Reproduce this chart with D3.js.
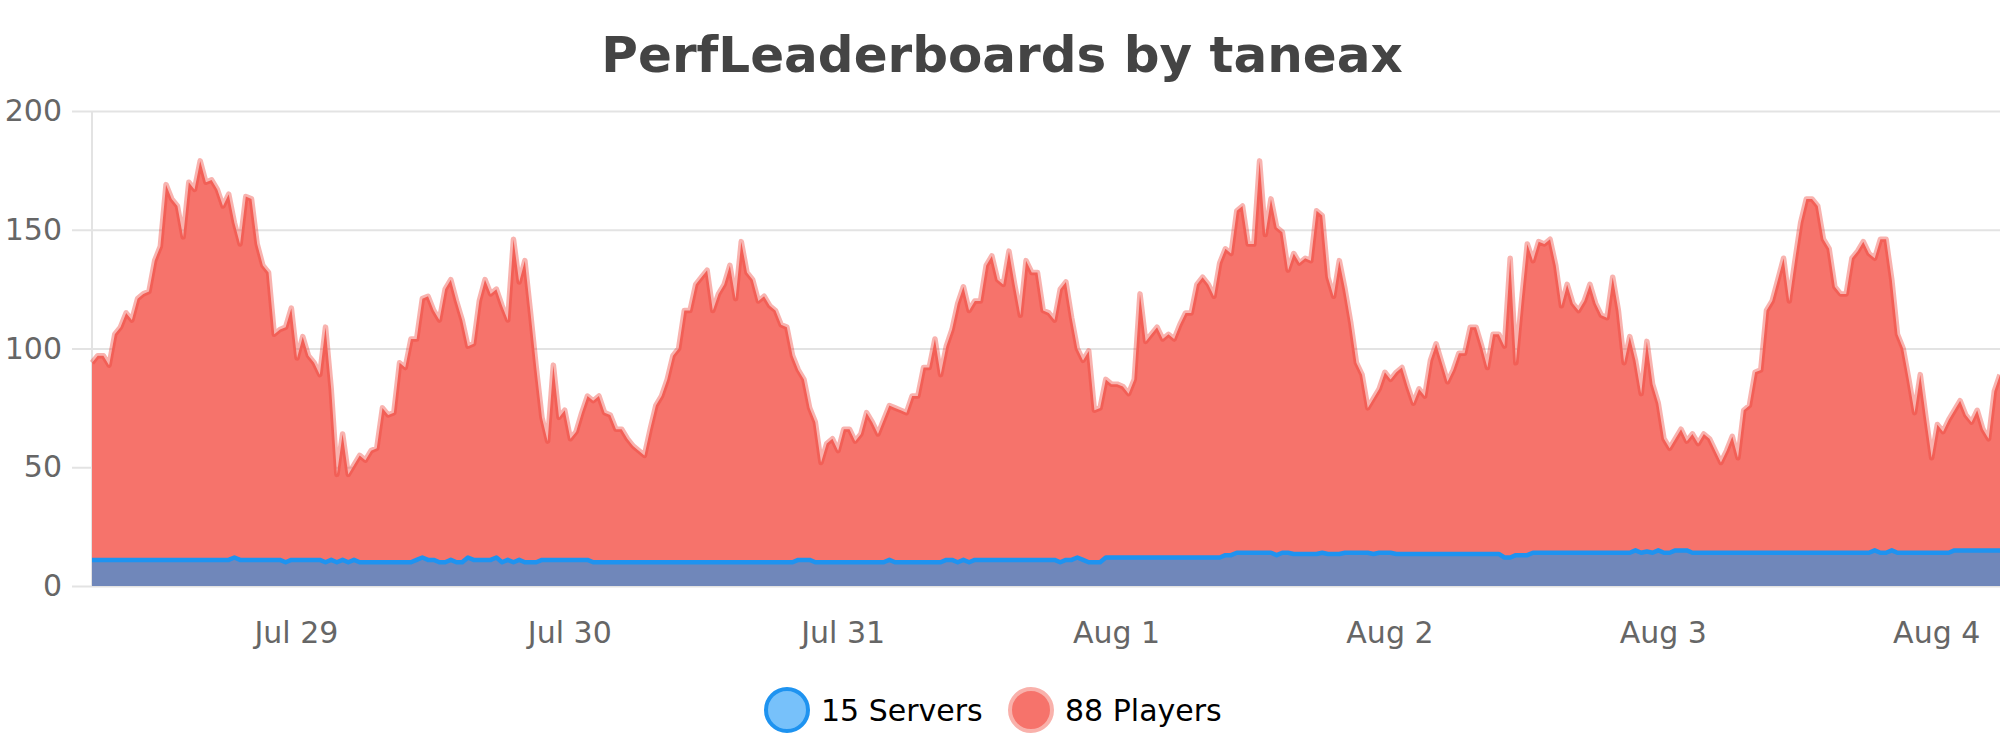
<!DOCTYPE html>
<html>
<head>
<meta charset="utf-8">
<script src="https://cdn.jsdelivr.net/npm/d3@7"></script>
<style>
  body { margin: 0; background: #fff; }
  svg { display: block; font-family: "DejaVu Sans", sans-serif; }
</style>
</head>
<body>
<svg id="chart"></svg>
<script>
// half-hourly samples, first one at Jul 28 06:06 (UTC)
var startTime = Date.UTC(2021, 6, 28, 6, 6);
var stepMinutes = 30;

var players = [
  94, 97, 97, 93, 106, 109, 115, 112, 121, 123,
  124, 137, 143, 169, 163, 160, 147, 170, 167, 179,
  170, 171, 167, 160, 165, 153, 144, 164, 163, 144,
  135, 132, 106, 108, 109, 117, 96, 105, 97, 94,
  89, 109, 83, 47, 64, 47, 51, 55, 53, 57,
  58, 75, 72, 73, 94, 92, 104, 104, 121, 122,
  116, 112, 125, 129, 120, 112, 101, 102, 120, 129,
  123, 125, 118, 112, 146, 128, 137, 115, 92, 71,
  61, 93, 71, 74, 62, 65, 73, 80, 78, 80,
  73, 72, 66, 66, 62, 59, 57, 55, 66, 76,
  80, 87, 97, 100, 116, 116, 127, 130, 133, 116,
  123, 127, 135, 121, 145, 132, 129, 120, 122, 118,
  116, 110, 109, 97, 91, 87, 75, 69, 52, 60,
  62, 57, 66, 66, 61, 64, 73, 69, 64, 70,
  76, 75, 74, 73, 80, 80, 92, 92, 104, 89,
  101, 108, 119, 126, 116, 120, 120, 135, 139, 129,
  127, 141, 127, 114, 137, 132, 132, 116, 115, 112,
  125, 128, 113, 100, 95, 99, 74, 75, 87, 85,
  85, 84, 81, 87, 123, 103, 106, 109, 104, 106,
  104, 110, 115, 115, 127, 130, 127, 122, 136, 142,
  140, 158, 160, 144, 144, 179, 148, 163, 151, 149,
  133, 140, 136, 138, 137, 158, 156, 130, 122, 137,
  125, 111, 94, 89, 75, 79, 83, 90, 87, 90,
  92, 84, 77, 83, 80, 95, 102, 94, 86, 91,
  98, 98, 109, 109, 101, 92, 106, 106, 101, 138,
  94, 120, 144, 137, 145, 144, 146, 135, 118, 127,
  119, 116, 120, 127, 119, 114, 113, 130, 116, 94,
  105, 95, 81, 103, 85, 77, 62, 58, 62, 66,
  61, 64, 60, 64, 62, 57, 52, 57, 63, 54,
  74, 76, 90, 91, 116, 120, 129, 138, 120, 137,
  153, 163, 163, 160, 146, 142, 126, 123, 123, 138,
  141, 145, 140, 138, 146, 146, 129, 106, 100, 87,
  73, 89, 71, 54, 68, 65, 70, 74, 78, 72,
  69, 74, 66, 62, 82, 89
];

var servers = [
  11, 11, 11, 11, 11, 11, 11, 11, 11, 11,
  11, 11, 11, 11, 11, 11, 11, 11, 11, 11,
  11, 11, 11, 11, 11, 12, 11, 11, 11, 11,
  11, 11, 11, 11, 10, 11, 11, 11, 11, 11,
  11, 10, 11, 10, 11, 10, 11, 10, 10, 10,
  10, 10, 10, 10, 10, 10, 10, 11, 12, 11,
  11, 10, 10, 11, 10, 10, 12, 11, 11, 11,
  11, 12, 10, 11, 10, 11, 10, 10, 10, 11,
  11, 11, 11, 11, 11, 11, 11, 11, 10, 10,
  10, 10, 10, 10, 10, 10, 10, 10, 10, 10,
  10, 10, 10, 10, 10, 10, 10, 10, 10, 10,
  10, 10, 10, 10, 10, 10, 10, 10, 10, 10,
  10, 10, 10, 10, 11, 11, 11, 10, 10, 10,
  10, 10, 10, 10, 10, 10, 10, 10, 10, 10,
  11, 10, 10, 10, 10, 10, 10, 10, 10, 10,
  11, 11, 10, 11, 10, 11, 11, 11, 11, 11,
  11, 11, 11, 11, 11, 11, 11, 11, 11, 11,
  10, 11, 11, 12, 11, 10, 10, 10, 12, 12,
  12, 12, 12, 12, 12, 12, 12, 12, 12, 12,
  12, 12, 12, 12, 12, 12, 12, 12, 12, 13,
  13, 14, 14, 14, 14, 14, 14, 14, 13, 14,
  14, 13.5, 13.5, 13.5, 13.5, 13.5, 14, 13.5, 13.5, 13.5,
  14, 14, 14, 14, 14, 13.5, 14, 14, 14, 13.5,
  13.5, 13.5, 13.5, 13.5, 13.5, 13.5, 13.5, 13.5, 13.5, 13.5,
  13.5, 13.5, 13.5, 13.5, 13.5, 13.5, 13.5, 13.5, 12, 12,
  13, 13, 13, 14, 14, 14, 14, 14, 14, 14,
  14, 14, 14, 14, 14, 14, 14, 14, 14, 14,
  14, 15, 14, 14.5, 14, 15, 14, 14, 15, 15,
  15, 14, 14, 14, 14, 14, 14, 14, 14, 14,
  14, 14, 14, 14, 14, 14, 14, 14, 14, 14,
  14, 14, 14, 14, 14, 14, 14, 14, 14, 14,
  14, 14, 14, 15, 14, 14, 15, 14, 14, 14,
  14, 14, 14, 14, 14, 14, 14, 15, 15, 15,
  15, 15, 15, 15, 15, 15
];

var yTicks = [0, 50, 100, 150, 200];
var dayTicks = [
  Date.UTC(2021, 6, 29), Date.UTC(2021, 6, 30), Date.UTC(2021, 6, 31),
  Date.UTC(2021, 7, 1), Date.UTC(2021, 7, 2), Date.UTC(2021, 7, 3), Date.UTC(2021, 7, 4)
];
var legendItems = ["15 Servers", "88 Players"];

var width = 2000, height = 750;
var plotLeft = 92, plotRight = 2000, plotTop = 111, plotBottom = 586;
var fontSize = 30;

var times = players.map(function(d, i) { return new Date(startTime + i * stepMinutes * 60000); });

var x = d3.scaleUtc()
  .domain([times[0], times[times.length - 1]])
  .range([plotLeft, plotRight]);
var y = d3.scaleLinear()
  .domain([0, 200])
  .range([plotBottom, plotTop]);

var svg = d3.select('#chart')
  .attr('width', width)
  .attr('height', height);

svg.append('text')
  .attr('x', 1002)
  .attr('y', 72)
  .attr('text-anchor', 'middle')
  .attr('font-size', '50px')
  .attr('font-weight', 'bold')
  .style('fill', '#444')
  .text('PerfLeaderboards by taneax');

// y axis doubles as grid
var yAxis = svg.append('g')
  .attr('transform', 'translate(72,0)')
  .call(d3.axisLeft(y).tickValues(yTicks).tickSize(-(plotRight - 72)).tickPadding(10));
yAxis.select('.domain').remove();
yAxis.selectAll('line').attr('stroke', '#e3e3e3').attr('stroke-width', 2)
  .attr('x2', plotRight - 72);
yAxis.selectAll('text')
  .attr('font-size', fontSize + 'px')
  .attr('font-family', '"DejaVu Sans", sans-serif')
  .style('fill', '#666');

svg.append('line')
  .attr('x1', plotLeft).attr('x2', plotLeft)
  .attr('y1', plotTop).attr('y2', plotBottom)
  .attr('stroke', '#e3e3e3')
  .attr('stroke-width', 2);

var playerArea = d3.area()
  .x(function(d, i) { return x(times[i]); })
  .y0(y(0))
  .y1(function(d) { return y(d); });
var playerLine = d3.line()
  .x(function(d, i) { return x(times[i]); })
  .y(function(d) { return y(d); });

svg.append('path')
  .datum(players)
  .attr('d', playerArea)
  .attr('fill', '#f6736b');
svg.append('path')
  .datum(players)
  .attr('d', playerLine)
  .attr('fill', 'none')
  .attr('stroke', 'rgb(238,64,54)')
  .attr('stroke-opacity', 0.4)
  .attr('stroke-width', 5.5)
  .attr('stroke-linejoin', 'round');

svg.append('path')
  .datum(servers)
  .attr('d', playerArea)
  .attr('fill', '#7087ba');
svg.append('path')
  .datum(servers)
  .attr('d', playerLine)
  .attr('fill', 'none')
  .attr('stroke', '#1e93f0')
  .attr('stroke-width', 4.5)
  .attr('stroke-linejoin', 'round');

var xAxis = svg.append('g')
  .attr('transform', 'translate(0,' + plotBottom + ')')
  .call(d3.axisBottom(x)
    .tickValues(dayTicks.map(function(d) { return new Date(d); }))
    .tickFormat(d3.utcFormat('%b %-d'))
    .tickSize(0)
    .tickPadding(36));
xAxis.select('.domain').remove();
xAxis.selectAll('text')
  .attr('font-size', fontSize + 'px')
  .attr('font-family', '"DejaVu Sans", sans-serif')
  .style('fill', '#666');

// legend
var legend = svg.append('g');
legend.append('circle')
  .attr('cx', 787).attr('cy', 710).attr('r', 21)
  .attr('fill', '#77c1fa')
  .attr('stroke', '#1e93f0')
  .attr('stroke-width', 4);
legend.append('text')
  .attr('x', 821).attr('y', 721)
  .attr('font-size', fontSize + 'px')
  .style('fill', '#000')
  .text(legendItems[0]);
legend.append('circle')
  .attr('cx', 1031).attr('cy', 710).attr('r', 21)
  .attr('fill', '#f6736b')
  .attr('stroke', '#f9b1ab')
  .attr('stroke-width', 4);
legend.append('text')
  .attr('x', 1065).attr('y', 721)
  .attr('font-size', fontSize + 'px')
  .style('fill', '#000')
  .text(legendItems[1]);
</script>
</body>
</html>
